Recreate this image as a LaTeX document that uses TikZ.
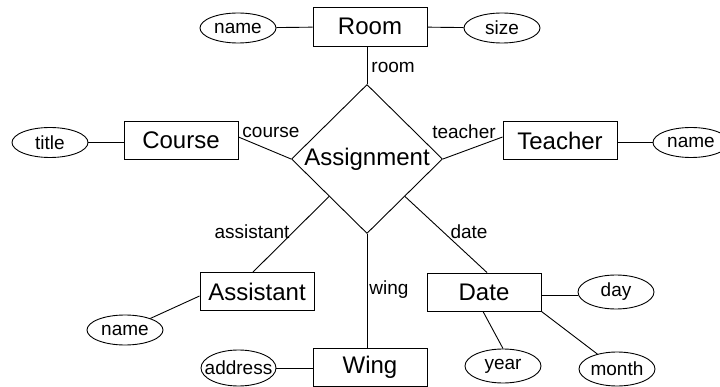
\documentclass[tikz,border=0pt]{standalone}
\usepackage{fontspec}
\setmainfont{Liberation Sans}
\usetikzlibrary{shapes.geometric,calc}
\tikzset{
  ent/.style={draw, rectangle, minimum width=114pt, minimum height=38pt, inner sep=0pt, font=\fontsize{24}{28}\selectfont},
  attr/.style={draw, ellipse, minimum width=76pt, minimum height=30pt, inner sep=0pt, font=\fontsize{19}{22}\selectfont},
  attrt/.style={attr, minimum height=34pt},
  rel/.style={draw, diamond, minimum width=151pt, minimum height=149pt, inner sep=0pt, font=\fontsize{24}{28}\selectfont},
  lbl/.style={inner sep=0pt, font=\fontsize{19}{22}\selectfont},
  conn/.style={draw, line width=0.9pt}
}
\begin{document}
\begin{tikzpicture}[x=1pt, y=-1pt, line width=0.9pt]
\useasboundingbox (0,0) rectangle (720,387);
% entities
\node[ent, minimum height=39pt] (Room) at (370,26.5) {Room};
\node[ent] (Course) at (181,140.5) {Course};
\node[ent] (Teacher) at (560,140.5) {Teacher};
\node[ent] (Assistant) at (257,291.5) {Assistant};
\node[ent] (Wing) at (370,367) {Wing};
\node[ent] (Date) at (484,292) {Date};
% relationship
\node[rel] (Assign) at (367,159) {Assignment};
% attributes
\node[attr] (rname) at (238,28) {name};
\node[attr] (size) at (502,28) {size};
\node[attr] (title) at (50,142.5) {title};
\node[attr] (tname) at (691,142.5) {name};
\node[attr] (aname) at (125,330) {name};
\node[attrt, minimum width=75pt, minimum height=36pt] (address) at (238.5,368) {\makebox[0pt]{address}};
\node[attrt] (day) at (616,292) {day};
\node[attrt] (year) at (503,366) {year};
\node[attrt] (month) at (617,369) {month};
% role labels
\node[lbl, anchor=west] (lroom) at (371,67) {room};
\node[lbl] (lcourse) at (271,132) {course};
\node[lbl] (lteacher) at (464,132) {teacher};
\node[lbl] (lassistant) at (252,232) {assistant};
\node[lbl] (ldate) at (469,232) {date};
\node[lbl, anchor=west] (lwing) at (369,290) {wing};
% connectors
\draw[conn] (rname) -- (Room);
\draw[conn] (Room) -- (size);
\draw[conn] (Assign.north) -- (Assign.north |- Room.south);
\draw[conn] (title) -- (title -| Course.west);
\draw[conn] ([yshift=3.5pt]Course.east) -- (Assign.west);
\draw[conn] (Assign.east) -- ([yshift=3.5pt]Teacher.west);
\draw[conn] (tname -| Teacher.east) -- (tname);
\draw[conn] ($(Assign.west)!0.5!(Assign.south)$) -- ([xshift=-4pt]Assistant.north);
\draw[conn] ([yshift=-4.5pt]Assistant.west) -- (aname);
\draw[conn] (Assign.south) -- (Assign.south |- Wing.north);
\draw[conn] (address) -- (address -| Wing.west);
\draw[conn] ($(Assign.east)!0.5!(Assign.south)$) -- ([xshift=3pt]Date.north);
\draw[conn] ([yshift=-3pt]Date.east) -- ([yshift=-3pt]day.west);
\draw[conn] ([xshift=-1pt]Date.south) -- (year.north);
\draw[conn] (Date.south east) -- (month);
\end{tikzpicture}
\end{document}
